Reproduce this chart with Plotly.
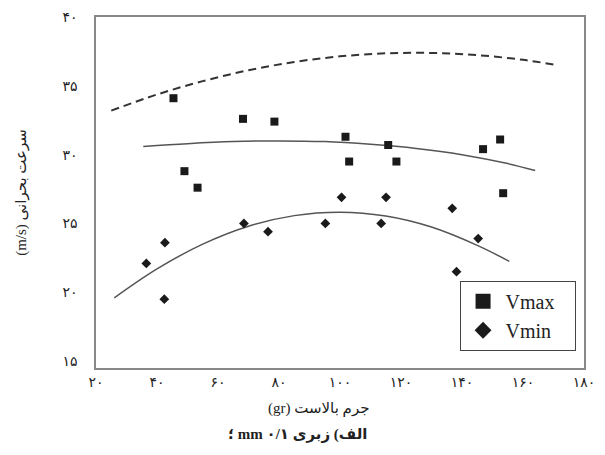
import plotly.graph_objects as go

# --- data ---
vmax_x = [45.4, 49.0, 53.3, 68.2, 78.5, 101.8, 103.0, 115.8, 118.5, 146.9, 152.5, 153.5]
vmax_y = [34.1, 28.8, 27.6, 32.6, 32.4, 31.3, 29.5, 30.7, 29.5, 30.4, 31.1, 27.2]
vmin_x = [36.5, 42.6, 42.4, 68.5, 76.4, 95.2, 100.5, 113.5, 115.1, 136.8, 138.2, 145.3]
vmin_y = [22.1, 23.6, 19.5, 25.0, 24.4, 25.0, 26.9, 25.0, 26.9, 26.1, 21.5, 23.9]

# trend curves
fit_max_x = [35.5, 50, 65, 80, 95, 110, 125, 140, 155, 164]
fit_max_y = [30.6, 30.8, 30.95, 31.0, 30.95, 30.75, 30.45, 30.0, 29.35, 28.85]
fit_min_x = [26, 40, 55, 70, 85, 100, 115, 130, 145, 155.5]
fit_min_y = [19.6, 21.7, 23.5, 24.8, 25.57, 25.82, 25.54, 24.74, 23.41, 22.25]
upper_x = [25, 40, 55, 70, 85, 100, 115, 130, 145, 160, 170.5]
upper_y = [33.2, 34.37, 35.34, 36.13, 36.73, 37.14, 37.36, 37.39, 37.23, 36.89, 36.53]

fa = "۰۱۲۳۴۵۶۷۸۹"
def fa_num(n):
    return "".join(fa[int(c)] for c in str(n))

x_ticks = [20, 40, 60, 80, 100, 120, 140, 160, 180]
y_ticks = [15, 20, 25, 30, 35, 40]
x_labels = [fa_num(v) for v in x_ticks]
y_labels = [fa_num(v) for v in y_ticks]

# right-to-left caption (embedded as RTL text)
RLE, PDF = "\u202b", "\u202c"
caption = RLE + "الف) زبری mm ۰/۱ ؛" + PDF

FONT = "Liberation Serif, DejaVu Sans, serif"
NB = "\u00a0"

W, H = 605, 455
ML, MR, MT, MB = 96, 10, 16, 87
PW = W - ML - MR

def px2paper(px):
    return (px - ML) / PW

fig = go.Figure()
fig.add_trace(go.Scatter(x=upper_x, y=upper_y, mode="lines", showlegend=False,
                         line=dict(color="#333333", width=2, dash="8px,5px", shape="spline")))
fig.add_trace(go.Scatter(x=fit_max_x, y=fit_max_y, mode="lines", showlegend=False,
                         line=dict(color="#555555", width=1.5, shape="spline")))
fig.add_trace(go.Scatter(x=fit_min_x, y=fit_min_y, mode="lines", showlegend=False,
                         line=dict(color="#555555", width=1.5, shape="spline")))
fig.add_trace(go.Scatter(x=vmax_x, y=vmax_y, mode="markers", name="Vmax", showlegend=False,
                         marker=dict(symbol="square", size=8, color="#1a1a1a")))
fig.add_trace(go.Scatter(x=vmin_x, y=vmin_y, mode="markers", name="Vmin", showlegend=False,
                         marker=dict(symbol="diamond", size=7.5, color="#1a1a1a")))
# legend entries
fig.add_trace(go.Scatter(x=[None], y=[None], mode="markers", name="Vmax" + NB * 3,
                         marker=dict(symbol="square", size=15, color="#1a1a1a")))
fig.add_trace(go.Scatter(x=[None], y=[None], mode="markers", name="Vmin" + NB * 3,
                         marker=dict(symbol="diamond", size=13, color="#1a1a1a")))

annotations = [
    dict(text="<b>" + caption + "</b>", x=px2paper(302), y=0,
         xref="paper", yref="paper", xanchor="center", yanchor="middle",
         yshift=-66, showarrow=False,
         font=dict(size=15, family=FONT, color="#222222")),
    dict(text="(gr) جرم بالاست", x=px2paper(324), y=0,
         xref="paper", yref="paper", xanchor="center", yanchor="middle",
         yshift=-40, showarrow=False,
         font=dict(size=15, family=FONT, color="#222222")),
]

fig.update_layout(
    width=W, height=H,
    margin=dict(l=ML, r=MR, t=MT, b=MB),
    paper_bgcolor="white", plot_bgcolor="white",
    font=dict(family=FONT, color="#222222", size=14),
    showlegend=True,
    legend=dict(x=0.745, y=0.149, xanchor="left", yanchor="middle",
                bordercolor="#444444", borderwidth=1, bgcolor="white",
                font=dict(family=FONT, size=20, color="#222222"),
                itemwidth=35, tracegroupgap=0),
    xaxis=dict(range=[20, 180], tickmode="array", tickvals=x_ticks, ticktext=x_labels,
               showgrid=False, zeroline=False, showline=True, mirror=True,
               linecolor="#888888", linewidth=1.5, ticks="", ticklabelstandoff=0,
               tickfont=dict(size=14, family=FONT)),
    yaxis=dict(range=[14.5, 40], tickmode="array", tickvals=y_ticks, ticktext=y_labels,
               showgrid=False, zeroline=False, showline=True, mirror=True,
               linecolor="#888888", linewidth=1.5, ticks="", ticklabelstandoff=14,
               tickfont=dict(size=14, family=FONT),
               title=dict(text="(m/s) سرعت بحرانی", standoff=32,
                          font=dict(size=15, family=FONT))),
    annotations=annotations,
)

fig.write_html("out.html")
